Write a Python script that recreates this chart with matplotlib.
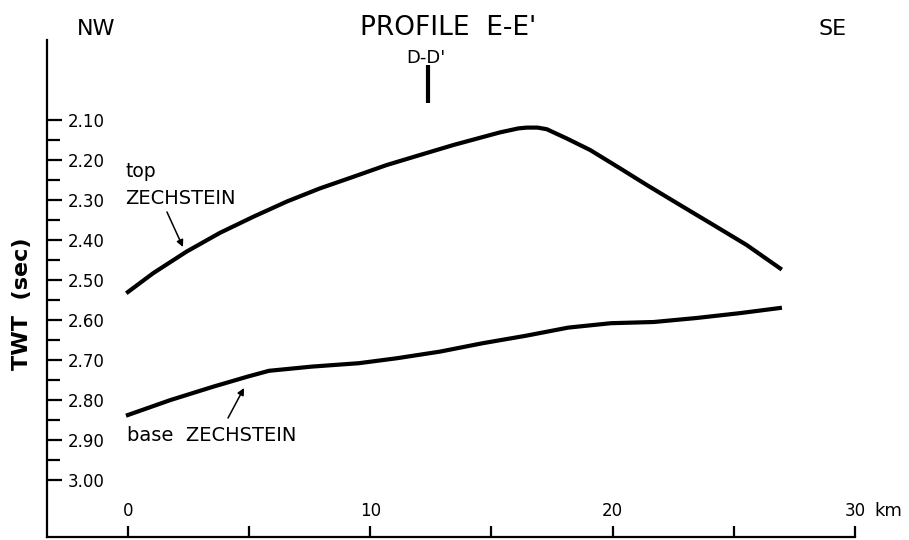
import matplotlib.pyplot as plt
from matplotlib.ticker import FixedLocator

# distance along profile (km) and two-way time (sec)
top_x = [0, 1.04, 2.42, 3.80, 5.17, 6.55, 7.92, 9.30, 10.68, 12.05, 13.43, 14.80,
         15.35, 16.11, 16.45, 16.9, 17.28, 18.1, 19.07, 20.31, 21.41, 22.78, 24.16,
         25.53, 26.91]
top_y = [2.53, 2.483, 2.429, 2.382, 2.342, 2.304, 2.271, 2.242, 2.2125, 2.1875, 2.1625,
         2.14, 2.131, 2.121, 2.119, 2.119, 2.123, 2.146, 2.175, 2.221, 2.2625, 2.3125,
         2.3625, 2.4125, 2.471]

base_x = [0, 1.76, 3.53, 4.94, 5.82, 7.59, 9.53, 11.11, 12.88, 14.64, 16.41, 18.17,
          19.93, 21.7, 23.46, 25.23, 26.9]
base_y = [2.8375, 2.80, 2.7665, 2.7415, 2.727, 2.7165, 2.708, 2.6955, 2.679, 2.658,
          2.6395, 2.619, 2.608, 2.605, 2.595, 2.583, 2.57]

y_major = [2.10, 2.20, 2.30, 2.40, 2.50, 2.60, 2.70, 2.80, 2.90, 3.00]
y_minor = [2.15, 2.25, 2.35, 2.45, 2.55, 2.65, 2.75, 2.85, 2.95]
x_ticks = [0, 5, 10, 15, 20, 25, 30]
x_labels = ["0", "", "10", "", "20", "", "30"]

# position of crossing profile D-D'
cross_x = 12.38

fig = plt.figure(figsize=(9.09, 5.40), dpi=100)
ax = fig.add_axes([47 / 909, 3 / 540, (855 - 47) / 909, (537 - 40) / 540])

ax.plot(top_x, top_y, color="black", lw=3, solid_joinstyle="round")
ax.plot(base_x, base_y, color="black", lw=3, solid_joinstyle="round")

ax.set_xlim(-3.34, 30)
ax.set_ylim(3.1425, 1.90)

for s in ["top", "right"]:
    ax.spines[s].set_visible(False)
for s in ["left", "bottom"]:
    ax.spines[s].set_linewidth(1.6)

ax.yaxis.set_major_locator(FixedLocator(y_major))
ax.yaxis.set_minor_locator(FixedLocator(y_minor))
ax.set_yticklabels(["%.2f" % v for v in y_major], ha="left")
ax.tick_params(axis="y", which="major", direction="in", length=11, width=1.6,
               pad=-15, labelsize=12)
ax.tick_params(axis="y", which="minor", direction="in", length=9, width=1.6)

ax.set_xticks(x_ticks)
ax.set_xticklabels(x_labels, va="bottom")
ax.tick_params(axis="x", direction="in", length=8, width=1.6, pad=-12, labelsize=12)
ax.text(30.8, 3.1425 - 17 / 400, "km", fontsize=13, ha="left", va="bottom")

ax.set_ylabel("TWT  (sec)", fontsize=16, fontweight="bold")
ax.yaxis.set_label_coords(-0.018, 0.47)

# headings above the frame
ax.text(-2.1, 1.8875, "NW", fontsize=16, ha="left", va="baseline", clip_on=False)
ax.text(13.2, 1.8875, "PROFILE  E-E'", fontsize=19, ha="center", va="baseline", clip_on=False)
ax.text(28.48, 1.8875, "SE", fontsize=16, ha="left", va="baseline", clip_on=False)
ax.text(12.3, 1.9575, "D-D'", fontsize=13, ha="center", va="baseline")
ax.plot([cross_x, cross_x], [1.9625, 2.0575], color="black", lw=3, solid_capstyle="butt")

# horizon labels
ax.text(-0.12, 2.2425, "top", fontsize=13.5, ha="left", va="baseline")
ax.text(-0.12, 2.31, "ZECHSTEIN", fontsize=14, ha="left", va="baseline")
ax.annotate("", xy=(2.27, 2.4175), xytext=(1.61, 2.33),
            arrowprops=dict(arrowstyle="-|>", color="black", lw=1.1,
                            mutation_scale=10, shrinkA=0, shrinkB=0))
ax.text(-0.04, 2.9025, "base  ZECHSTEIN", fontsize=14, ha="left", va="baseline")
ax.annotate("", xy=(4.79, 2.77), xytext=(4.13, 2.845),
            arrowprops=dict(arrowstyle="-|>", color="black", lw=1.1,
                            mutation_scale=10, shrinkA=0, shrinkB=0))

fig.savefig("out.png", dpi=100)
